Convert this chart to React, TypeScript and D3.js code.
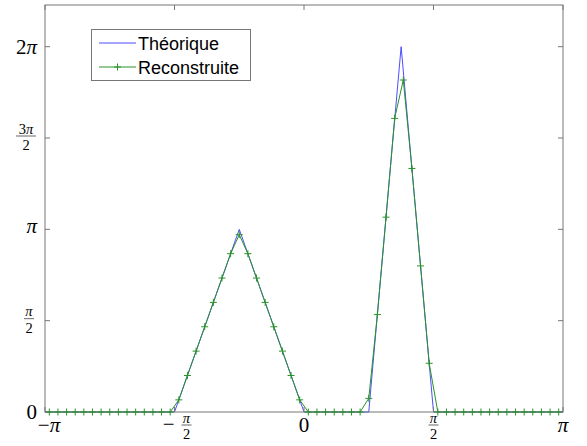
import * as d3 from "d3";

const width = 587,
  height = 446,
  marginTop = 5,
  marginRight = 24,
  marginBottom = 34,
  marginLeft = 45;

const PI = Math.PI;

// theoretical curve, x and y in multiples of pi
const theoX = [-1, -0.5, -0.25, 0, 0.25, 0.375, 0.5, 1];
const theoY = [0, 0, 1, 0, 0, 2, 0, 0];

// reconstructed samples: x in units of pi/60, y in radians
const reconX = [
  -59, -57, -55, -53, -51, -49, -47, -45, -43, -41, -39, -37, -35, -33, -31,
  -29, -27, -25, -23, -21, -19, -17, -15, -13, -11, -9, -7, -5, -3, -1,
  1, 3, 5, 7, 9, 11, 13,
  15, 17, 19, 21, 23, 25, 27, 29,
  31, 33, 35, 37, 39, 41, 43, 45, 47, 49, 51, 53, 55, 57, 59,
];
const reconY = [
  0, 0, 0, 0, 0, 0, 0, 0, 0, 0, 0, 0, 0, 0, 0,
  0.209, 0.628, 1.047, 1.466, 1.885, 2.304, 2.723, 3.05, 2.723, 2.304, 1.885, 1.466, 1.047, 0.628, 0.209,
  0, 0, 0, 0, 0, 0, 0,
  0.235, 1.676, 3.351, 5.05, 5.71, 4.189, 2.513, 0.838,
  0, 0, 0, 0, 0, 0, 0, 0, 0, 0, 0, 0, 0, 0, 0,
];

const xTicks = [-1, -0.5, 0, 0.5, 1];
const xTickLabels = ["−π", "−π/2", "0", "π/2", "π"];
const yTicks = [0, 0.5, 1, 1.5, 2];
const yTickLabels = ["0", "π/2", "π", "3π/2", "2π"];
const legendLabels = ["Théorique", "Reconstruite"];

const blue = "#4d4dff";
const green = "#2a922a";
const axisColor = "#777";
const serif = "'Liberation Serif', 'DejaVu Serif', serif";
const sans = "'Liberation Sans', Arial, sans-serif";

function rich(s: string) {
  return s
    .split(/(π)/)
    .filter(Boolean)
    .map((p, i) =>
      p === "π" ? (
        <tspan key={i} fontStyle="italic">
          π
        </tspan>
      ) : (
        <tspan key={i}>{p}</tspan>
      )
    );
}

function Plus({ cx, cy, s = 3.5 }: { cx: number; cy: number; s?: number }) {
  return (
    <path
      d={`M${cx - s},${cy}H${cx + s}M${cx},${cy - s}V${cy + s}`}
      stroke={green}
      strokeWidth={1}
    />
  );
}

// stacked fraction: numerator over a thin bar over denominator
function Frac({ cx, cy, num, den, hw }: { cx: number; cy: number; num: string; den: string; hw: number }) {
  return (
    <g fontFamily={serif} fill="#000">
      <text x={cx} y={cy - 4.5} fontSize={14.5} textAnchor="middle">
        {rich(num)}
      </text>
      <line x1={cx - hw} x2={cx + hw} y1={cy - 2} y2={cy - 2} stroke="#000" strokeWidth={0.6} />
      <text x={cx} y={cy + 12} fontSize={14.5} textAnchor="middle">
        {den}
      </text>
    </g>
  );
}

export default function App() {
  const x = d3.scaleLinear([-PI, PI], [marginLeft, width - marginRight]);
  const y = d3.scaleLinear([0, 7], [height - marginBottom, marginTop]);
  const x0 = marginLeft,
    x1 = width - marginRight,
    y0 = height - marginBottom,
    y1 = marginTop;

  const line = d3
    .line<[number, number]>()
    .x((d) => x(d[0]))
    .y((d) => y(d[1]));

  const theo: [number, number][] = theoX.map((v, i) => [v * PI, theoY[i] * PI]);
  const recon: [number, number][] = reconX.map((v, i) => [(v * PI) / 60, reconY[i]]);

  const tickLen = 5;

  return (
    <svg
      width={width}
      height={height}
      viewBox={`0 0 ${width} ${height}`}
      style={{ position: "absolute", left: 0, top: 0, background: "#fff" }}
    >
      <rect x={0} y={0} width={width} height={height} fill="#fff" />

      {/* data */}
      <path d={line(theo) ?? ""} fill="none" stroke={blue} strokeWidth={1} />
      <path d={line(recon) ?? ""} fill="none" stroke={green} strokeWidth={1} />

      {/* axes box */}
      <rect
        x={x0}
        y={y1}
        width={x1 - x0}
        height={y0 - y1}
        fill="none"
        stroke={axisColor}
        strokeWidth={1}
      />
      {xTicks.map((t) => (
        <g key={"xt" + t} stroke={axisColor}>
          <line x1={x(t * PI)} x2={x(t * PI)} y1={y0} y2={y0 - tickLen} />
          <line x1={x(t * PI)} x2={x(t * PI)} y1={y1} y2={y1 + tickLen} />
        </g>
      ))}
      {yTicks.map((t) => (
        <g key={"yt" + t} stroke={axisColor}>
          <line x1={x0} x2={x0 + tickLen} y1={y(t * PI)} y2={y(t * PI)} />
          <line x1={x1} x2={x1 - tickLen} y1={y(t * PI)} y2={y(t * PI)} />
        </g>
      ))}

      {recon.map((d, i) => (
        <Plus key={i} cx={x(d[0])} cy={y(d[1])} />
      ))}

      {/* x tick labels */}
      {xTicks.map((t, i) => {
        const lab = xTickLabels[i];
        const cx = x(t * PI);
        const neg = lab.startsWith("−");
        const body = neg ? lab.slice(1) : lab;
        if (body.includes("/")) {
          const [num, den] = body.split("/");
          const fx = neg ? cx + 12 : cx;
          return (
            <g key={"xl" + t}>
              {neg && (
                <text x={cx} y={431} fontSize={21} textAnchor="end" fontFamily={serif} fill="#000">
                  −
                </text>
              )}
              <Frac cx={fx} cy={427} num={num} den={den} hw={5} />
            </g>
          );
        }
        return (
          <text
            key={"xl" + t}
            x={cx + (neg ? 4 : 0)}
            y={432}
            fontSize={21}
            textAnchor="middle"
            fontFamily={serif}
            fill="#000"
          >
            {rich(lab)}
          </text>
        );
      })}

      {/* y tick labels */}
      {yTicks.map((t, i) => {
        const lab = yTickLabels[i];
        const cy = y(t * PI);
        if (lab.includes("/")) {
          const [num, den] = lab.split("/");
          const wide = num.length > 1;
          return <Frac key={"yl" + t} cx={wide ? 26 : 29} cy={cy} num={num} den={den} hw={wide ? 10 : 5} />;
        }
        const dy = /\d/.test(lab) ? 7 : 4;
        return (
          <text
            key={"yl" + t}
            x={37}
            y={cy + dy}
            fontSize={21}
            textAnchor="end"
            fontFamily={serif}
            fill="#000"
          >
            {rich(lab)}
          </text>
        );
      })}

      {/* legend */}
      <g>
        <rect x={91.5} y={29.5} width={159} height={51} fill="#fff" stroke={axisColor} strokeWidth={1} />
        <line x1={99} x2={136} y1={43} y2={43} stroke={blue} strokeWidth={1} />
        <line x1={99} x2={136} y1={67} y2={67} stroke={green} strokeWidth={1} />
        <Plus cx={117.5} cy={67} />
        <text x={138} y={49.5} fontSize={18} fontFamily={sans} fill="#000">
          {legendLabels[0]}
        </text>
        <text x={138} y={73.5} fontSize={18} fontFamily={sans} fill="#000">
          {legendLabels[1]}
        </text>
      </g>
    </svg>
  );
}
